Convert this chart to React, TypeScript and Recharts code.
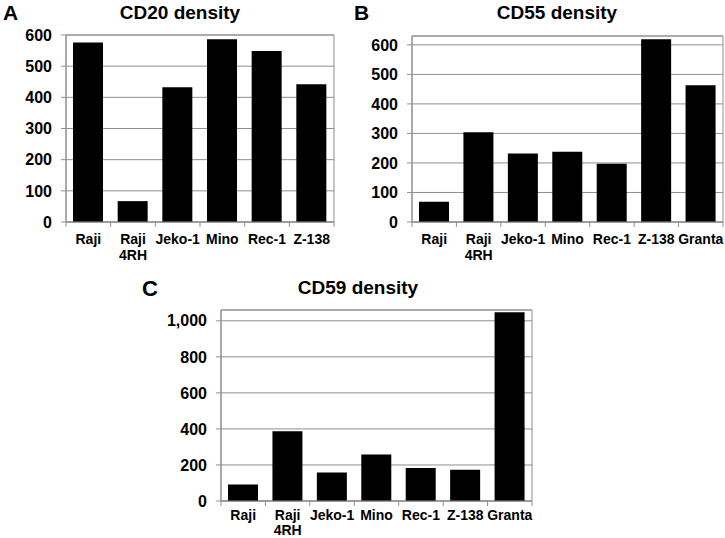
import React from 'react'
import { BarChart, Bar, XAxis, YAxis, CartesianGrid, ReferenceArea } from 'recharts'

// cell lines on the x axis ('\n' = second label line)
const cellLinesA = ['Raji', 'Raji\n4RH', 'Jeko-1', 'Mino', 'Rec-1', 'Z-138']
const cellLinesBC = ['Raji', 'Raji\n4RH', 'Jeko-1', 'Mino', 'Rec-1', 'Z-138', 'Granta']

// antigen density values
const cd20Values = [576, 67, 432, 586, 549, 442]
const cd55Values = [69, 304, 232, 238, 197, 619, 463]
const cd59Values = [91, 387, 158, 258, 183, 174, 1047]

const cd20Ticks = [0, 100, 200, 300, 400, 500, 600]
const cd55Ticks = [0, 100, 200, 300, 400, 500, 600]
const cd59Ticks = [0, 200, 400, 600, 800, 1000]

const GRID = '#8f8f8f'
const FONT = '"Liberation Sans", Arial, Helvetica, sans-serif'

const toRows = (names: string[], values: number[]) =>
  names.map((name, i) => ({ name, value: values[i] }))

function CellTick(props: any) {
  const { x, y, payload, index, n, plotWidth, labelDy, lineGap } = props
  const band = plotWidth / n
  const lines = String(payload.value).split('\n')
  return (
    <g>
      <line x1={x - band / 2} x2={x - band / 2} y1={y} y2={y + 5} stroke={GRID} />
      {index === n - 1 && (
        <line x1={x + band / 2} x2={x + band / 2} y1={y} y2={y + 5} stroke={GRID} />
      )}
      <text
        x={x}
        y={y + labelDy}
        textAnchor="middle"
        fill="#000"
        style={{ fontFamily: FONT, fontSize: 14, fontWeight: 700 }}
      >
        {lines.map((l, i) => (
          <tspan key={i} x={x} dy={i === 0 ? 0 : lineGap}>
            {l}
          </tspan>
        ))}
      </text>
    </g>
  )
}

interface PanelProps {
  names: string[]
  values: number[]
  ticks: number[]
  max: number
  left: number
  top: number
  width: number
  height: number
  margin: { top: number; right: number; bottom: number; left: number }
  yAxisWidth: number
  xAxisHeight: number
  labelDy: number
  lineGap: number
}

function DensityPanel(p: PanelProps) {
  const data = toRows(p.names, p.values)
  const plotWidth = p.width - p.margin.left - p.margin.right - p.yAxisWidth
  return (
    <div style={{ position: 'absolute', left: p.left, top: p.top }}>
      <BarChart width={p.width} height={p.height} data={data} margin={p.margin}>
        <CartesianGrid vertical={false} stroke={GRID} />
        <ReferenceArea y1={0} y2={p.max} fill="none" stroke={GRID} ifOverflow="visible" />
        <XAxis
          dataKey="name"
          height={p.xAxisHeight}
          axisLine={{ stroke: GRID }}
          tickLine={false}
          tickSize={0}
          tickMargin={0}
          interval={0}
          tick={
            <CellTick
              n={p.names.length}
              plotWidth={plotWidth}
              labelDy={p.labelDy}
              lineGap={p.lineGap}
            />
          }
        />
        <YAxis
          width={p.yAxisWidth}
          domain={[0, p.max]}
          ticks={p.ticks}
          allowDataOverflow
          axisLine={{ stroke: GRID }}
          tickLine={{ stroke: GRID }}
          tickSize={5}
          tickMargin={9}
          tickFormatter={(v: number) => v.toLocaleString('en-US')}
          tick={{ fontFamily: FONT, fontSize: 16, fontWeight: 700, fill: '#000' }}
        />
        <Bar dataKey="value" fill="#000" barSize={30} isAnimationActive={false} />
      </BarChart>
    </div>
  )
}

const titleStyle = { fontFamily: FONT, fontWeight: 700 }

export default function App() {
  return (
    <div
      style={{
        position: 'absolute',
        left: 0,
        top: 0,
        width: 725,
        height: 538,
        background: '#fff',
        fontFamily: FONT,
        overflow: 'hidden',
      }}
    >
      <DensityPanel
        names={cellLinesA}
        values={cd20Values}
        ticks={cd20Ticks}
        max={600}
        left={0}
        top={0}
        width={362}
        height={270}
        margin={{ top: 35, right: 28, bottom: 8, left: 0 }}
        yAxisWidth={66}
        xAxisHeight={40}
        labelDy={22}
        lineGap={16}
      />
      <DensityPanel
        names={cellLinesBC}
        values={cd55Values}
        ticks={cd55Ticks}
        max={630}
        left={362}
        top={0}
        width={363}
        height={270}
        margin={{ top: 36, right: 2, bottom: 7, left: 0 }}
        yAxisWidth={50}
        xAxisHeight={41}
        labelDy={22}
        lineGap={16}
      />
      <DensityPanel
        names={cellLinesBC}
        values={cd59Values}
        ticks={cd59Ticks}
        max={1060}
        left={130}
        top={270}
        width={420}
        height={268}
        margin={{ top: 40, right: 18, bottom: 0, left: 0 }}
        yAxisWidth={91}
        xAxisHeight={37}
        labelDy={19}
        lineGap={15}
      />
      <svg
        width={725}
        height={538}
        style={{ position: 'absolute', left: 0, top: 0, pointerEvents: 'none' }}
      >
        <text x={3} y={20} fontSize={21} style={titleStyle}>A</text>
        <text x={180} y={19} fontSize={19} textAnchor="middle" style={titleStyle}>
          CD20 density
        </text>
        <text x={354} y={20} fontSize={21} style={titleStyle}>B</text>
        <text x={557} y={19} fontSize={19} textAnchor="middle" style={titleStyle}>
          CD55 density
        </text>
        <text x={142} y={296} fontSize={22} style={titleStyle}>C</text>
        <text x={358} y={294} fontSize={19} textAnchor="middle" style={titleStyle}>
          CD59 density
        </text>
      </svg>
    </div>
  )
}
